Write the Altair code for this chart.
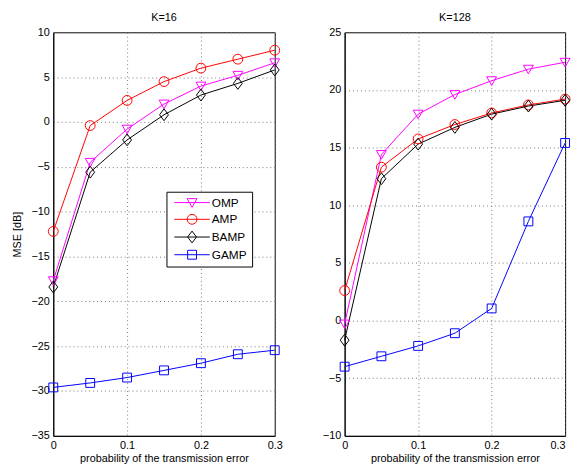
import altair as alt
import pandas as pd

# ---- data ----
p = [0, 0.05, 0.1, 0.15, 0.2, 0.25, 0.3]
series = ["OMP", "AMP", "BAMP", "GAMP"]
colors = ["#ff00ff", "#ff0000", "#000000", "#0000ff"]

k16_omp = [-17.7, -4.5, -0.8, 2.0, 4.0, 5.2, 6.6]
k16_amp = [-12.2, -0.4, 2.4, 4.5, 6.0, 7.0, 8.0]
k16_bamp = [-18.4, -5.6, -2.0, 0.8, 3.0, 4.3, 5.8]
k16_gamp = [-29.6, -29.1, -28.5, -27.7, -26.9, -25.9, -25.45]

k128_omp = [-0.3, 14.4, 17.9, 19.6, 20.8, 21.8, 22.4]
k128_amp = [2.6, 13.3, 15.75, 17.0, 18.0, 18.7, 19.2]
k128_bamp = [-1.7, 12.3, 15.3, 16.75, 17.9, 18.6, 19.1]
k128_gamp = [-4.0, -3.1, -2.2, -1.1, 1.05, 8.6, 15.4]

# marker shapes (custom paths in unit square)
m_tri = "M-1,-0.8L1,-0.8L0,0.95Z"
m_circ = "M1,0A1,1 0 1,1 -1,0A1,1 0 1,1 1,0Z"
m_dia = "M0,-1.2L0.9,0L0,1.2L-0.9,0Z"
m_sq = "M-0.9,-0.9L0.9,-0.9L0.9,0.9L-0.9,0.9Z"
shapes = [m_tri, m_circ, m_dia, m_sq]
line_seg = "M-3.6,0H3.6"
legend_shapes = [line_seg + s for s in shapes]

FONT = "Liberation Sans"
PLOT_H = 410


def build_df(vals):
    rows = []
    for s, v in zip(series, vals):
        for xi, yi in zip(p, v):
            rows.append({"p": xi, "mse": yi, "series": s})
    return pd.DataFrame(rows)


def panel(title, vals, ydom, show_legend, ytitle, width):
    df = build_df(vals)
    yticks = list(range(ydom[0], ydom[1] + 1, 5))
    x = alt.X(
        "p:Q",
        scale=alt.Scale(domain=[0, 0.3], nice=False),
        axis=alt.Axis(values=[0, 0.1, 0.2, 0.3], format="~g",
                      title="probability of the transmission error",
                      labelPadding=4, titlePadding=2,
                      labelAlign={"condition": {"test": "datum.value >= 0.29", "value": "right"},
                                  "value": "center"} if not show_legend else "center"),
    )
    yaxis_kw = dict(values=yticks, labelPadding=4, minExtent=26, maxExtent=26,
                    titlePadding=5, title=ytitle if ytitle else "")
    y = alt.Y("mse:Q", scale=alt.Scale(domain=ydom, nice=False, zero=False),
              axis=alt.Axis(**yaxis_kw))
    color_scale = alt.Scale(domain=series, range=colors)
    shape_scale = alt.Scale(domain=series, range=shapes)

    lines = alt.Chart(df).mark_line(strokeWidth=1).encode(
        x=x, y=y,
        color=alt.Color("series:N", scale=color_scale, legend=None),
        detail="series:N",
    )
    pts = alt.Chart(df).mark_point(filled=False, size=100, strokeWidth=1, opacity=1).encode(
        x=x, y=y,
        color=alt.Color("series:N", scale=color_scale, legend=None),
        shape=alt.Shape("series:N", scale=shape_scale, legend=None),
    )
    layers = [lines, pts]
    if show_legend:
        leg = alt.Legend(
            title=None, orient="none", legendX=115, legendY=162,
            strokeColor="black", fillColor="white", padding=5,
            labelFont=FONT, labelFontSize=12, labelColor="black",
            labelExpr="datum.label + '   '",
            symbolSize=100, symbolStrokeWidth=1, symbolOffset=15,
            labelOffset=14, rowPadding=3,
        )
        leg_layer = alt.Chart(df).transform_filter("false").mark_point(
            filled=False, size=100, strokeWidth=1, opacity=1
        ).encode(
            x=x, y=y,
            color=alt.Color("series:N", scale=color_scale, legend=leg),
            shape=alt.Shape("series:N", scale=alt.Scale(domain=series, range=legend_shapes), legend=leg),
        )
        layers.append(leg_layer)
    ch = alt.layer(*layers)
    if show_legend:
        ch = ch.resolve_scale(shape="independent", color="independent")
    return ch.properties(
        width=width, height=PLOT_H,
        title=alt.TitleParams(title, fontSize=11, fontWeight="normal", font=FONT,
                              color="black", offset=3, frame="group"),
    )


left = panel("K=16", [k16_omp, k16_amp, k16_bamp, k16_gamp], [-35, 10], True, "MSE [dB]", 225)
right = panel("K=128", [k128_omp, k128_amp, k128_bamp, k128_gamp], [-10, 25], False, None, 224)

chart = alt.hconcat(left, right, spacing=71, bounds="flush").properties(
    padding={"left": 3, "top": 0, "right": 0, "bottom": 0}
).configure_view(stroke="black", strokeWidth=1).configure_axis(
    domainColor="black", domainWidth=1, tickSize=0,
    grid=True, gridColor="#777777", gridDash=[1, 3], gridOpacity=1, gridWidth=1,
    labelFont=FONT, labelFontSize=11, labelColor="black",
    titleFont=FONT, titleFontSize=11, titleFontWeight="normal", titleColor="black",
)

chart.save("out.html", embed_options={"renderer": "svg", "actions": False})
